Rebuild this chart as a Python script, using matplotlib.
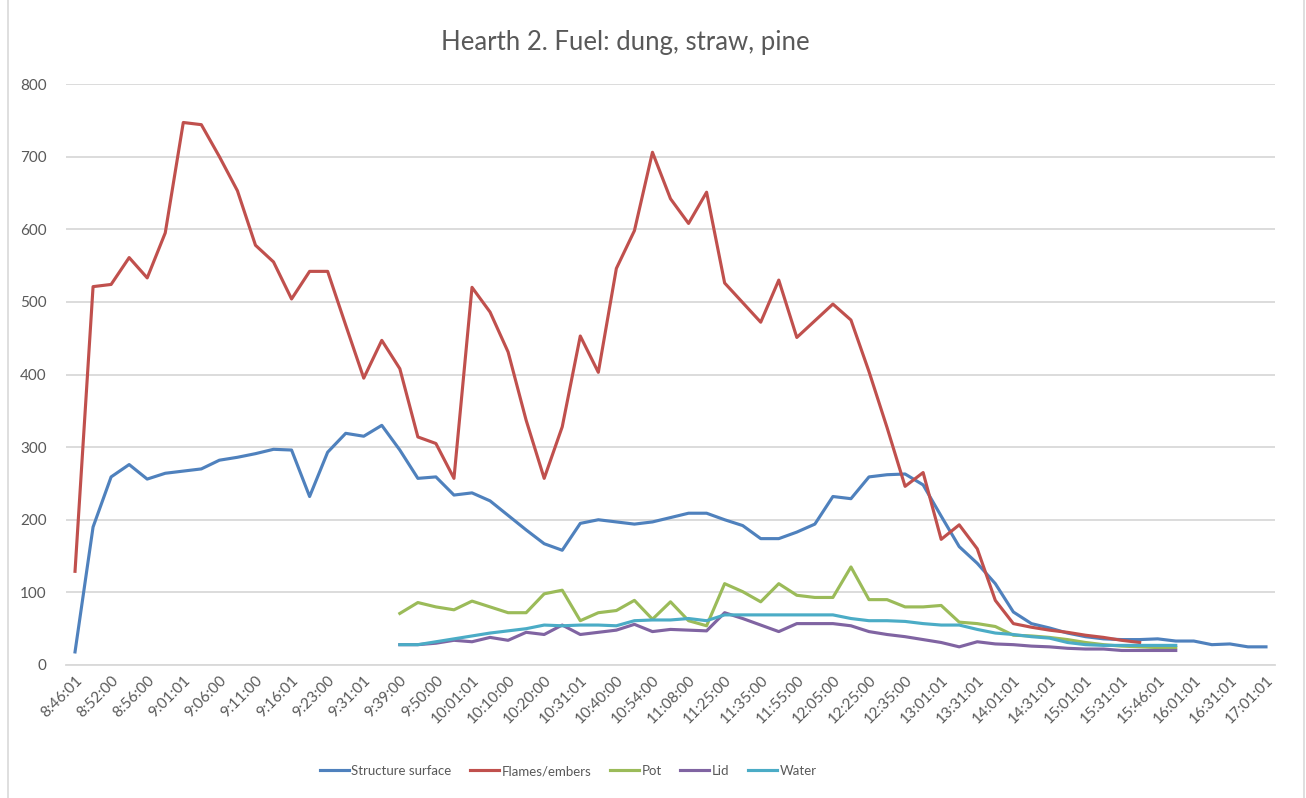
import numpy as np
import matplotlib
matplotlib.use("Agg")
import matplotlib.pyplot as plt
from matplotlib.patches import Rectangle

nan = np.nan

# libellés affichés (un point sur deux)
labels_temps = [
    "8:46:01", "8:52:00", "8:56:00", "9:01:01", "9:06:00", "9:11:00", "9:16:01",
    "9:23:00", "9:31:01", "9:39:00", "9:50:00", "10:01:01", "10:10:00", "10:20:00",
    "10:31:01", "10:40:00", "10:54:00", "11:08:00", "11:25:00", "11:35:00",
    "11:55:00", "12:05:00", "12:25:00", "12:35:00", "13:01:01", "13:31:01",
    "14:01:01", "14:31:01", "15:01:01", "15:31:01", "15:46:01", "16:01:01",
    "16:31:01", "17:01:01",
]

structure = [
    18, 190, 259, 276, 256, 264, 267, 270, 282, 286, 291, 297, 296, 232, 293, 319,
    315, 330, 296, 257, 259, 234, 237, 226, 206, 186, 167, 158, 195, 200, 197, 194,
    197, 203, 209, 209, 200, 192, 174, 174, 183, 194, 232, 229, 259, 262, 263, 248,
    205, 163, 140, 112, 73, 57, 51, 44, 39, 36, 35, 35, 36, 33, 33, 28, 29, 25, 25,
]

flammes = [
    129, 521, 524, 561, 533, 595, 747, 744, 700, 653, 578, 555, 504, 542, 542, 468,
    395, 447, 408, 314, 305, 257, 520, 486, 431, 337, 257, 328, 453, 403, 546, 598,
    706, 642, 608, 651, 526, 499, 472, 530, 451, 474, 497, 475, 404, 327, 246, 265,
    173, 193, 160, 89, 57, 52, 48, 45, 41, 38, 34, 31, nan, nan, nan, nan, nan, nan, nan,
]

pot = [
    nan, nan, nan, nan, nan, nan, nan, nan, nan, nan, nan, nan, nan, nan, nan, nan,
    nan, nan, 71, 86, 80, 76, 88, 80, 72, 72, 98, 103, 61, 72, 75, 89,
    63, 87, 61, 54, 112, 101, 87, 112, 96, 93, 93, 135, 90, 90, 80, 80,
    82, 59, 57, 53, 41, 40, 38, 35, 31, 28, 26, 25, 24, 24, nan, nan, nan, nan, nan,
]

couvercle = [
    nan, nan, nan, nan, nan, nan, nan, nan, nan, nan, nan, nan, nan, nan, nan, nan,
    nan, nan, 28, 28, 30, 34, 32, 38, 34, 45, 42, 55, 42, 45, 48, 56,
    46, 49, 48, 47, 72, 64, 55, 46, 57, 57, 57, 54, 46, 42, 39, 35,
    31, 25, 32, 29, 28, 26, 25, 23, 22, 22, 20, 20, 20, 20, nan, nan, nan, nan, nan,
]

eau = [
    nan, nan, nan, nan, nan, nan, nan, nan, nan, nan, nan, nan, nan, nan, nan, nan,
    nan, nan, 28, 28, 32, 36, 40, 44, 47, 50, 55, 54, 55, 55, 54, 61,
    62, 62, 64, 61, 69, 69, 69, 69, 69, 69, 69, 64, 61, 61, 60, 57,
    55, 55, 49, 44, 42, 39, 37, 31, 28, 27, 27, 27, 27, 27, nan, nan, nan, nan, nan,
]

series = [
    ("Structure surface", structure, "#4F81BD"),
    ("Flames/embers", flammes, "#C0504D"),
    ("Pot", pot, "#9BBB59"),
    ("Lid", couvercle, "#8064A2"),
    ("Water", eau, "#4BACC6"),
]

gris_texte = "#595959"
gris_grille = "#D9D9D9"

plt.rcParams["font.family"] = ["Lato", "DejaVu Sans"]

fig = plt.figure(figsize=(13.06, 7.98), dpi=100)
ax = fig.add_axes([66 / 1306, 1 - 665 / 798, (1275 - 66) / 1306, (665 - 84) / 798])

x = np.arange(len(structure))
for nom, valeurs, couleur in series:
    ax.plot(x, valeurs, color=couleur, lw=2.25, label=nom, solid_joinstyle="round")

ax.set_xlim(-0.5, len(x) - 0.5)
ax.set_ylim(0, 800)
ax.set_yticks(range(0, 801, 100))
ax.set_xticks(x[::2])
ax.set_xticklabels(labels_temps, rotation=45, ha="right", rotation_mode="anchor")

ax.grid(axis="y", color=gris_grille, lw=1.3)
ax.set_axisbelow(True)
for cote in ["top", "right", "left"]:
    ax.spines[cote].set_visible(False)
ax.spines["bottom"].set_color(gris_grille)
ax.spines["bottom"].set_linewidth(1.3)
ax.tick_params(axis="both", length=0, colors=gris_texte, labelsize=11)
ax.tick_params(axis="y", pad=14)
ax.tick_params(axis="x", pad=6)

fig.text(0.479, 0.947, "Hearth 2. Fuel: dung, straw, pine",
         ha="center", va="center", fontsize=18.5, color=gris_texte)

fig.legend(loc="center", bbox_to_anchor=(0.435, 1 - 771 / 798), ncol=5,
           frameon=False, fontsize=9.5, labelcolor=gris_texte,
           handlelength=2.2, handletextpad=0.2, columnspacing=1.4)

# cadre de la zone de graphique
fig.add_artist(Rectangle((8 / 1306, -0.01), (1304 - 8) / 1306, 1.02,
                         transform=fig.transFigure, fill=False,
                         edgecolor=gris_grille, lw=1.2))

fig.savefig("out.png", dpi=100, facecolor="white")
